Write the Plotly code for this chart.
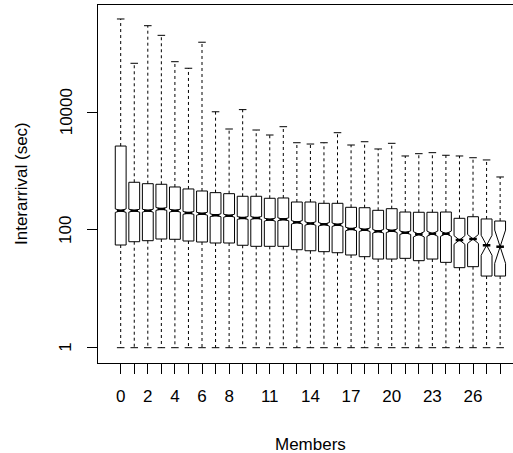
import numpy as np
import plotly.graph_objects as go

# ---- data (seconds) ----
members = list(range(29))
tick_text = ["0", "", "2", "", "4", "", "6", "", "8", "", "", "11", "", "", "14", "", "",
             "17", "", "", "20", "", "", "23", "", "", "26", "", ""]
whisker_hi = [385000, 68000, 296000, 203000, 72400, 56000, 155000, 10200, 5200, 11100,
              5000, 4110, 5690, 3040, 2890, 3040, 4500, 2780, 3160, 2380,
              2970, 1810, 1980, 2060, 1860, 1810, 1690, 1550, 796]
q3 = [2670, 647, 612, 598, 538, 498, 460, 431, 414, 374,
      374, 346, 350, 299, 299, 284, 284, 243, 239, 216,
      230, 202, 200, 200, 202, 158, 168, 154, 142]
median = [213, 213, 213, 228, 213, 195, 189, 178, 175, 160,
          160, 150, 152, 135, 129, 125, 123, 104, 101, 95,
          97, 90, 84.5, 86.5, 86.5, 67.6, 70.3, 55, 52]
q1 = [55.6, 63.2, 65.8, 70.3, 69.5, 65, 62.5, 60.1, 60.1, 55,
      52.8, 52.8, 52.8, 46.2, 44.4, 42.8, 41.1, 37.6, 35.2, 32.1,
      32.1, 33, 30.1, 32.1, 28.2, 22.9, 23.8, 16.5, 16.5]
whisker_lo = [1] * 29
# notch half-span in log10 units
notch_log = [0.03, 0.025, 0.025, 0.025, 0.025, 0.025, 0.025, 0.025, 0.025, 0.025,
             0.025, 0.025, 0.025, 0.03, 0.03, 0.03, 0.03, 0.03, 0.03, 0.03,
             0.03, 0.03, 0.045, 0.045, 0.045, 0.073, 0.077, 0.17, 0.283]
y_tick_vals = [1, 100, 10000]
y_tick_text = ["1", "100", "10000"]

lhi = np.log10(whisker_hi)
lq3 = np.log10(q3)
lmed = np.log10(median)
lq1 = np.log10(q1)
llo = np.log10(whisker_lo)
ly_ticks = np.log10(y_tick_vals)

FONT = "Liberation Sans, Arial, sans-serif"

fig = go.Figure()

# dashed whiskers
wx, wy = [], []
for i, m in enumerate(members):
    wx += [m, m, None, m, m, None]
    wy += [lq3[i], lhi[i], None, lq1[i], llo[i], None]
fig.add_trace(go.Scatter(x=wx, y=wy, mode="lines",
                         line=dict(color="black", width=1, dash="3px,3px"),
                         hoverinfo="skip", showlegend=False))
# staples
fig.add_trace(go.Scatter(x=members + members, y=list(lhi) + list(llo), mode="markers",
                         marker=dict(symbol="line-ew", size=5.4,
                                     line=dict(color="black", width=1)),
                         hoverinfo="skip", showlegend=False))
# notched boxes
fig.add_trace(go.Box(x=members, q1=lq1, median=lmed, q3=lq3,
                     lowerfence=lq1, upperfence=lq3,
                     notched=True, notchspan=notch_log, notchwidth=0.5,
                     width=0.8, whiskerwidth=0, boxpoints=False,
                     fillcolor="white", line=dict(color="black", width=1),
                     hoverinfo="skip", showlegend=False))
# thick medians
fig.add_trace(go.Scatter(x=members, y=lmed, mode="markers",
                         marker=dict(symbol="line-ew", size=5.4,
                                     line=dict(color="black", width=2.5)),
                         hoverinfo="skip", showlegend=False))

annotations = [
    dict(text="Members", x=14, xref="x", y=-0.2263, yref="paper",
         xanchor="center", yanchor="middle", showarrow=False,
         font=dict(family=FONT, size=17)),
    dict(text="Interarrival (sec)", x=-0.1855, xref="paper", y=0.5, yref="paper",
         xanchor="center", yanchor="middle", textangle=-90, showarrow=False,
         font=dict(family=FONT, size=17)),
]
for v, t in zip(ly_ticks, y_tick_text):
    annotations.append(dict(text=t, x=-0.0771, xref="paper", y=v, yref="y",
                            xanchor="center", yanchor="middle", textangle=-90,
                            showarrow=False, font=dict(family=FONT, size=17)))

fig.update_layout(
    width=513, height=453,
    margin=dict(l=98, r=0, t=5, b=90, pad=0),
    paper_bgcolor="white", plot_bgcolor="white",
    font=dict(family=FONT, size=17, color="black"),
    showlegend=False,
    xaxis=dict(range=[-1.675, 28.95], tickvals=members, ticktext=tick_text,
               tickangle=0, ticks="outside", ticklen=10, tickwidth=1, tickcolor="black",
               showgrid=False, zeroline=False, showline=True, linecolor="black",
               linewidth=1, mirror=True, ticklabelstandoff=8),
    yaxis=dict(range=[-0.26, 5.823], tickvals=list(ly_ticks),
               ticktext=y_tick_text, showticklabels=False, ticks="outside", ticklen=10,
               tickwidth=1, tickcolor="black", showgrid=False, zeroline=False,
               showline=True, linecolor="black", linewidth=1),
    annotations=annotations,
)

fig.write_html("out.html", config={"displayModeBar": False, "staticPlot": True},
               post_script="document.body.style.margin='0px';")
